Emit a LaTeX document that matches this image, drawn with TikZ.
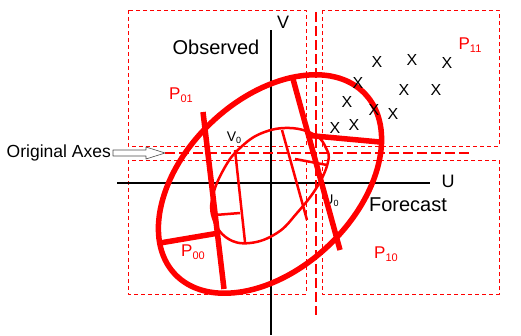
\documentclass[tikz,border=0pt]{standalone}
\usepackage{fontspec}
\setmainfont{Liberation Sans}
\usetikzlibrary{calc}
\newcommand{\quadlbl}[2]{#1\raisebox{-3.5pt}{\fontsize{11}{11}\selectfont #2}}
\begin{document}
\begin{tikzpicture}[x=1pt,y=-1pt,line join=round,
  region/.style={red,line width=0.8pt,dash pattern=on 4pt off 3pt},
  origaxis/.style={red,line width=2.6pt,dash pattern=on 10pt off 4pt},
  axisline/.style={black,line width=1.7pt},
  bigcurve/.style={red,line width=5.5pt},
  smallcurve/.style={red,line width=2.5pt},
  lbl/.style={font=\fontsize{18}{20}\selectfont,inner sep=0pt},
  plbl/.style={text=red,font=\fontsize{17}{18}\selectfont,inner sep=0pt},
  obs/.style={font=\fontsize{16}{16}\selectfont,inner sep=0pt}]
\useasboundingbox (0,0) rectangle (521,335);
% quadrant regions
\draw[region] (128,10) rectangle (306,146);
\draw[region] (322,10) rectangle (499,146);
\draw[region] (128,160) rectangle (306,294);
\draw[region] (322,160) rectangle (499,294);
% forecast / observed axes
\draw[axisline] (117,183) -- (430,183);
\draw[axisline] (271,30) -- (271,335);
\node[lbl] (ulbl) at (448,181) {U};
\node[lbl] (vlbl) at (283,22) {V};
\node[lbl,font=\fontsize{20}{22}\selectfont] (obslbl) at (216,47) {Observed};
\node[lbl,font=\fontsize{20}{22}\selectfont] (fclbl) at (408,205) {Forecast};
\node[font=\fontsize{14}{14}\selectfont,inner sep=0pt] (u0) at (331,201) {U\raisebox{-2pt}{\fontsize{9}{9}\selectfont 0}};
% original axes
\coordinate (hstart) at (165,153);
\coordinate (hend) at (470,153);
\coordinate (vstart) at (316,12);
\coordinate (vend) at (316,315);
\draw[origaxis] (hstart) -- (hend);
\draw[origaxis] (vstart) -- (vend);
\node[lbl,font=\fontsize{17.5}{19}\selectfont,anchor=east] (orig) at (111,153) {Original Axes};
\draw[black!70,fill=white,line width=0.6pt] ($(orig.east)+(2,-3)$) -- ++(33,0) -- ++(0,-3) -- (hstart) -- ++(-19,6) -- ++(0,-3) -- ++(-33,0) -- cycle;
% outer ellipse and its frame
\draw[bigcurve,rotate around={43.5:(270,184)}] (270,184) ellipse [x radius=131pt,y radius=85pt];
\coordinate (a1) at (203,112);
\coordinate (a2) at (224,289);
\coordinate (b1) at (293,79);
\coordinate (b2) at (340,250);
\draw[bigcurve] (a1) -- (a2);
\draw[bigcurve] (b1) -- (b2);
\draw[bigcurve] (160,243) -- ($(a1)!0.685!(a2)$);
\draw[bigcurve] ($(b1)!0.33!(b2)$) -- (380,142);
% inner ellipse and its frame
\draw[smallcurve] plot[smooth cycle,tension=0.7] coordinates {(290,128) (315,135) (326,148) (328,162) (317,187) (297,213) (277,233) (250,243) (227,238) (213,218) (213,195) (225,167) (240,148) (262,133)};
\draw[smallcurve] (235,150) -- (245,242);
\draw[smallcurve] (215,215) -- (240,213);
\draw[smallcurve] (282,130) -- (307,220);
\draw[smallcurve] (295,159) -- (327,165);
\node[font=\fontsize{14}{14}\selectfont,inner sep=0pt] (v0) at (234,138) {V\raisebox{-2pt}{\fontsize{9}{9}\selectfont 0}};
% quadrant labels
\node[plbl] (p01) at (181,95) {\quadlbl{P}{01}};
\node[plbl] (p11) at (470,45) {\quadlbl{P}{11}};
\node[plbl] (p00) at (193,252) {\quadlbl{P}{00}};
\node[plbl] (p10) at (386,254) {\quadlbl{P}{10}};
% observations
\foreach \px/\py [count=\i] in {377/62,412/60,447/63,358/83,404/90,436/90,347/102,374/110,393/114,335/128,354/125}
  \node[obs] (x\i) at (\px,\py) {X};
\end{tikzpicture}
\end{document}
